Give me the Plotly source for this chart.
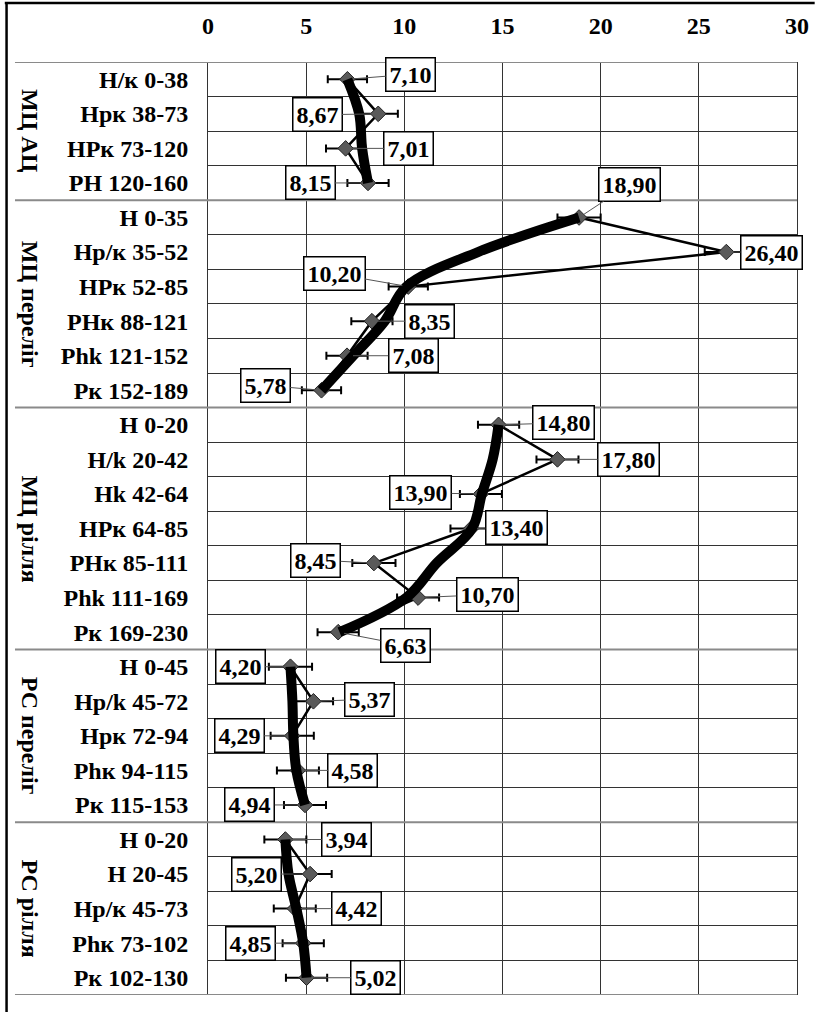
import plotly.graph_objects as go

# ---------------- data ----------------
groups = ["МЦ АЦ", "МЦ перелiг", "МЦ рiлля", "РС перелiг", "РС рiлля"]
group_sizes = [4, 6, 7, 5, 5]

horizons = [
    "Н/к 0-38", "Нрк 38-73", "НРк 73-120", "РН 120-160",
    "Н 0-35", "Нр/к 35-52", "НРк 52-85", "РНк 88-121", "Phk 121-152", "Рк 152-189",
    "Н 0-20", "Н/k 20-42", "Нk 42-64", "НРк 64-85", "РНк 85-111", "Phk 111-169", "Рк 169-230",
    "Н 0-45", "Нр/k 45-72", "Нрк 72-94", "Phк 94-115", "Рк 115-153",
    "Н 0-20", "Н 20-45", "Нр/к 45-73", "Phк 73-102", "Рк 102-130",
]

values = [7.10, 8.67, 7.01, 8.15,
          18.90, 26.40, 10.20, 8.35, 7.08, 5.78,
          14.80, 17.80, 13.90, 13.40, 8.45, 10.70, 6.63,
          4.20, 5.37, 4.29, 4.58, 4.94,
          3.94, 5.20, 4.42, 4.85, 5.02]

errors = [1.00, 1.00, 1.00, 1.05,
          1.10, 1.10, 1.00, 1.05, 1.05, 1.00,
          1.05, 1.07, 1.07, 1.05, 1.10, 1.07, 1.05,
          1.10, 1.00, 1.10, 1.07, 1.07,
          1.07, 1.10, 1.07, 1.05, 1.05]

trend = [7.10, 7.70, 7.85, 8.15,
         18.90, 13.75, 10.10, 9.00, 7.40, 5.78,
         14.80, 14.50, 13.95, 13.45, 11.65, 10.10, 6.70,
         4.20, 4.30, 4.35, 4.50, 4.94,
         3.94, 4.10, 4.50, 4.85, 5.02]

x_ticks = [0, 5, 10, 15, 20, 25, 30]

# label box offsets (pixels) relative to each point
label_offsets = [(63, -5), (-61, 1), (63, 0), (-58, 0),
                 (50, -33), (45, 0), (-74, -13), (58, 0), (66, 0), (-56, -5),
                 (65, -2), (71, 0), (-60, -1), (45, -1), (-58, -3), (69, -3), (67, 13),
                 (-50, 0), (56, -2), (-53, 0), (55, 0), (-55, 0),
                 (61, 0), (-54, 0), (62, 0), (-53, 0), (69, 0)]

FONT = "Liberation Serif"
FS = 24
n = len(values)
rows = list(range(n))

# build per-group segments separated by None
seg_x, seg_y, seg_t, seg_ty, seg_e = [], [], [], [], []
bounds = [-0.5]
start = 0
for size in group_sizes:
    for i in range(start, start + size):
        seg_x.append(values[i]); seg_y.append(rows[i]); seg_e.append(errors[i])
        seg_t.append(trend[i]); seg_ty.append(rows[i])
    seg_x.append(None); seg_y.append(None); seg_e.append(0)
    seg_t.append(None); seg_ty.append(None)
    start += size
    bounds.append(start - 0.5)

fig = go.Figure()

fig.add_trace(go.Scatter(
    x=seg_x, y=seg_y, mode="lines+markers",
    line=dict(color="black", width=2.5),
    marker=dict(symbol="diamond", size=12, color="#5a5a5a", line=dict(color="#222", width=1)),
    error_x=dict(type="data", array=seg_e, color="black", thickness=2, width=4),
    showlegend=False, connectgaps=False, cliponaxis=False, hoverinfo="skip",
))

fig.add_trace(go.Scatter(
    x=seg_t, y=seg_ty, mode="lines",
    line=dict(color="black", width=10, shape="spline", smoothing=1.0),
    showlegend=False, connectgaps=False, hoverinfo="skip",
))

# value labels
for i, v in enumerate(values):
    dx, dy = label_offsets[i]
    fig.add_annotation(
        x=v, y=rows[i], ax=dx, ay=dy,
        text=f"{v:.2f}".replace(".", ","),
        showarrow=True, arrowhead=0, arrowwidth=1, arrowcolor="#555", standoff=6,
        font=dict(family=FONT, size=FS, color="black", weight="bold"),
        bgcolor="white", bordercolor="black", borderwidth=1.5, borderpad=3,
    )

# group labels
start = 0
for g, size in zip(groups, group_sizes):
    center = start + (size - 1) / 2
    fig.add_annotation(
        x=-0.302, xref="paper", y=center, yref="y",
        xanchor="center", yanchor="middle",
        text=g, textangle=90, showarrow=False,
        font=dict(family=FONT, size=FS, color="black", weight="bold"),
    )
    start += size

# group separator lines
for b in bounds:
    fig.add_shape(type="line", xref="paper", yref="y",
                  x0=-0.3277, x1=1, y0=b, y1=b,
                  line=dict(color="#8a8a8a", width=2))

# outer frame (top and left)
fig.add_shape(type="line", xref="paper", yref="paper",
              x0=-0.345, x1=1.03, y0=1.0632, y1=1.0632,
              line=dict(color="black", width=2.5))
fig.add_shape(type="line", xref="paper", yref="paper",
              x0=-0.342, x1=-0.342, y0=-0.02, y1=1.0632,
              line=dict(color="black", width=2.5))

minor_vals = [i + 0.5 for i in range(n - 1) if (i + 0.5) not in bounds]

fig.update_xaxes(
    side="top", range=[0, 30], tickvals=x_ticks, ticktext=[str(t) for t in x_ticks],
    showgrid=True, gridcolor="#333", gridwidth=1, zeroline=False,
    tickfont=dict(family=FONT, size=FS, color="black", weight="bold"),
    ticks="", ticklabelstandoff=22, showline=False, automargin=False,
)
fig.update_yaxes(
    range=[n - 0.5, -0.5], tickvals=rows, ticktext=horizons,
    showgrid=False, zeroline=False,
    minor=dict(tickvals=minor_vals, showgrid=True, gridcolor="#333", gridwidth=1, ticks=""),
    tickfont=dict(family=FONT, size=FS, color="black", weight="bold"),
    ticks="", ticklabelstandoff=14, automargin=False,
    showline=True, linecolor="#333", linewidth=1, mirror=True,
)

fig.update_layout(
    width=815, height=1012,
    margin=dict(l=208, r=18, t=62, b=17),
    plot_bgcolor="white", paper_bgcolor="white",
    showlegend=False, hovermode=False,
)

fig.write_html(
    "out.html",
    config={"displayModeBar": False, "staticPlot": True},
    post_script="document.body.style.margin='0';document.body.style.padding='0';document.body.style.overflow='hidden';",
)
